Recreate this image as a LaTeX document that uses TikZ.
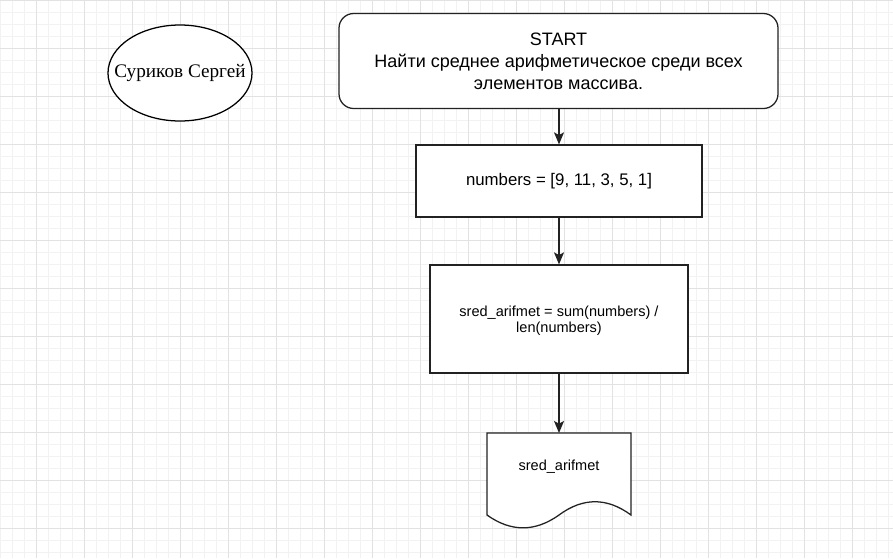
\documentclass[tikz,border=0pt]{standalone}
\usepackage{fontspec}
\setmainfont{Liberation Sans}
\newfontfamily\timesfont{Liberation Serif}
\usetikzlibrary{arrows.meta,shapes.geometric}
\definecolor{minorgrid}{HTML}{F2F2F2}
\definecolor{majorgrid}{HTML}{E2E2E2}
\definecolor{edge}{HTML}{222222}
\tikzset{
  box/.style={draw=edge, line width=0.95pt, fill=white, inner sep=0pt, align=center},
  flow/.style={draw=edge, line width=0.95pt, -{Stealth[length=9pt,width=7.5pt,inset=2pt]}},
  bigtext/.style={font=\fontsize{13.5}{16.5}\selectfont},
  midtext/.style={font=\fontsize{12.6}{16.5}\selectfont},
  smalltext/.style={font=\fontsize{10.9}{12}\selectfont},
}
\begin{document}
\begin{tikzpicture}[x=0.75pt,y=-0.75pt]
  \useasboundingbox (0,0) rectangle (893,558);
  \fill[white] (0,0) rectangle (893,558);
  % grid
  \foreach \gx in {0,12,...,888} {\draw[minorgrid,line width=0.75pt] (\gx,0) -- (\gx,558);}
  \foreach \gy in {0,12,...,552} {\draw[minorgrid,line width=0.75pt] (0,\gy) -- (893,\gy);}
  \foreach \gx in {36,84,...,888} {\draw[majorgrid,line width=0.75pt] (\gx,0) -- (\gx,558);}
  \foreach \gy in {0,48,...,552} {\draw[majorgrid,line width=0.75pt] (0,\gy) -- (893,\gy);}

  % author ellipse
  \node[ellipse, draw=black, line width=0.95pt, fill=white, minimum width=108pt, minimum height=72pt, inner sep=0pt] (author) at (180,73) {};
  \node[font=\timesfont\fontsize{14.4}{17}\selectfont, inner sep=0pt] (authorname) at (author.center) {Суриков Сергей};

  % start
  \node[box, rounded corners=11pt, minimum width=329.25pt, minimum height=71.25pt, bigtext] (start) at (558.5,61)
    {START\\Найти среднее арифметическое среди всех\\элементов массива.};

  % numbers
  \node[box, minimum width=214.5pt, minimum height=54pt, midtext] (nums) at (559,181) {numbers = [9, 11, 3, 5, 1]};

  % sred
  \node[box, minimum width=193.5pt, minimum height=81pt, smalltext] (sred) at (559,319) {};
  \node[smalltext, align=center, inner sep=0pt] (sredtext) at (559,320.5)
    {sred\_arifmet = sum(numbers) /\\len(numbers)};

  % document shape
  \coordinate (doctop) at (559,433);
  \draw[draw=edge, line width=0.95pt, fill=white] (487,433) -- (631,433) -- (631,515)
     .. controls (607,497.3) and (583,497.3) .. (559,515)
     .. controls (535,532.1) and (511,532.1) .. (487,515) -- cycle;
  \node[smalltext, inner sep=0pt] (out) at (559,467) {sred\_arifmet};

  % connectors
  \draw[flow] (nums.north |- start.south) -- (nums.north);
  \draw[flow] (nums.south) -- (sred.north);
  \draw[flow] (sred.south) -- (doctop);
\end{tikzpicture}
\end{document}
